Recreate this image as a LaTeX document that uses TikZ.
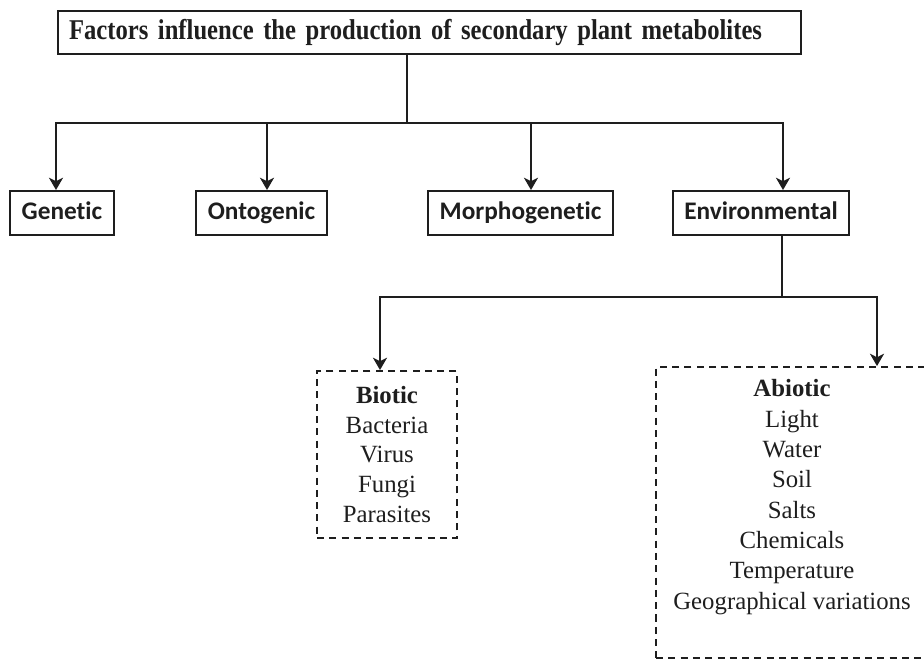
\documentclass[tikz,border=0pt]{standalone}
\usepackage{fontspec}
\setmainfont{Liberation Serif}
\setsansfont[Ligatures=NoCommon]{Carlito}
\newfontfamily\titlefont[FakeStretch=0.86]{Liberation Serif}
\usetikzlibrary{arrows.meta}

\begin{document}
\begin{tikzpicture}[x=0.02cm, y=-0.02cm,
    factorbox/.style={draw=inkColour, text=inkColour, line width=1.1pt, inner xsep=0.23cm,
        minimum height=0.88cm, text height=10.5pt, text depth=3.5pt,
        font=\sffamily\bfseries\fontsize{14.4}{17}\selectfont},
    groupbox/.style={draw=inkColour, text=inkColour, dash pattern=on 4pt off 3pt,
        line width=1.1pt, align=center, font=\fontsize{14.1}{17}\selectfont},
    branch/.style={draw=inkColour, line width=1.3pt, line cap=rect},
    arrowline/.style={branch, -{Stealth[length=7pt, width=8pt, inset=2pt]}}]

    \definecolor{inkColour}{HTML}{1E1E1E}

    % Fix the page size
    \useasboundingbox (0,0) rectangle (924,660);

    % Title box
    \node[draw=inkColour, text=inkColour, line width=1.2pt, anchor=north west,
        minimum height=0.86cm, inner xsep=0.22cm, text width=14.42cm, align=left,
        font=\titlefont\bfseries\fontsize{16.3}{19}\selectfont]
        (title) at (57,10) {\mbox{Factors influence the production of secondary plant metabolites}};

    % Main factors
    \node[factorbox] (genetic)   at (62,213)    {Genetic};
    \node[factorbox] (ontogenic) at (261.5,213) {Ontogenic};
    \node[factorbox] (morpho)    at (520.5,213) {Morphogenetic};
    \node[factorbox] (environ)   at (761,213)   {Environmental};

    % Draw the upper branches
    \coordinate (top) at (407,123);
    \draw[inkColour, line width=0.6pt] (title.south -| top) -- (top);
    \draw[branch] (56,123) coordinate (barL) -- (783,123) coordinate (barR);
    \foreach \x/\name in {56/genetic, 267/ontogenic, 531/morpho, 783/environ} {
        \coordinate (drop-\name) at (\x,123);
        \draw[arrowline] (drop-\name) -- (drop-\name |- \name.north);
    }

    % Environmental groups
    \node[groupbox, minimum width=2.8cm, minimum height=3.34cm] (biotic) at (387,454.5)
        {\textbf{Biotic}\\Bacteria\\Virus\\Fungi\\Parasites};
    \node[groupbox, minimum width=5.44cm, minimum height=5.82cm] (abiotic) at (792,512.5) {};
    \node[anchor=north, align=center, inner sep=0pt, text=inkColour,
        font=\fontsize{14.1}{17.3}\selectfont] (abiotictext) at ([yshift=-0.26cm]abiotic.north)
        {\textbf{Abiotic}\\Light\\Water\\Soil\\Salts\\Chemicals\\Temperature\\Geographical variations};

    % Draw the lower branches
    \coordinate (envdrop) at (782,297);
    \draw[branch] (environ.south -| envdrop) -- (envdrop);
    \draw[branch] (380,297) coordinate (lowL) -- (877,297) coordinate (lowR);
    \draw[arrowline] (lowL) -- (lowL |- biotic.north);
    \draw[arrowline] (lowR) -- (lowR |- abiotic.north);

\end{tikzpicture}
\end{document}
